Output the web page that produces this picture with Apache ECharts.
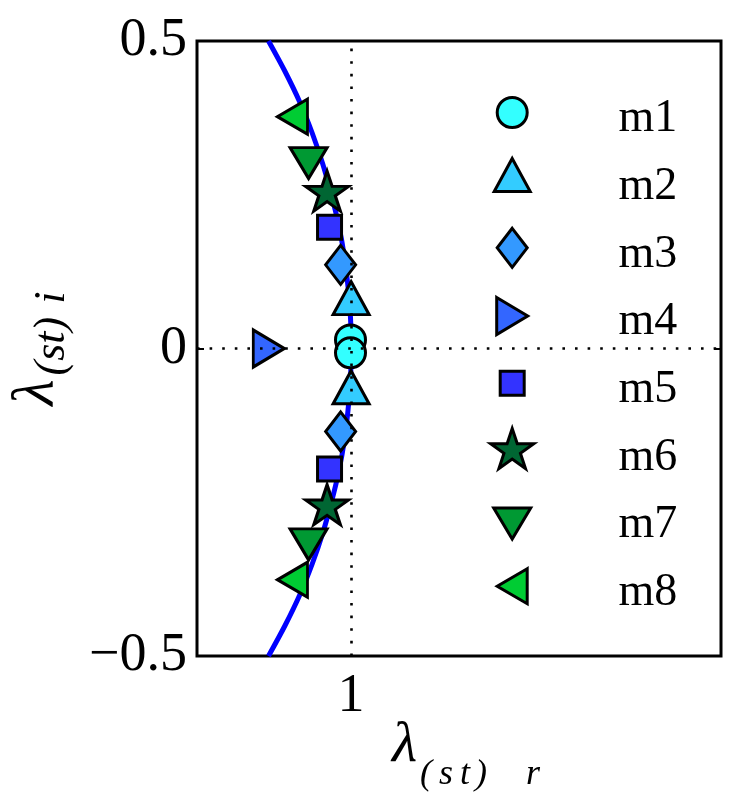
<!DOCTYPE html>
<html><head><meta charset="utf-8">
<script src="https://cdn.jsdelivr.net/npm/echarts@6/dist/echarts.min.js"></script>
<style>html,body{margin:0;padding:0;background:#fff}#c{width:739px;height:798px}</style>
</head><body><div id="c"></div>
<script>
// ---- data ----
const seriesNames = ['m1','m2','m3','m4','m5','m6','m7','m8'];
const m1 = [[0.999, 0.014],[0.999,-0.007]];
const m2 = [[1.000, 0.073],[1.000,-0.072]];
const m3 = [[0.983, 0.136],[0.983,-0.135]];
const m4 = [[0.858, 0.000]];
const m5 = [[0.965, 0.197],[0.965,-0.196]];
const m6 = [[0.961, 0.256],[0.961,-0.254]];
const m7 = [[0.931, 0.310],[0.931,-0.310]];
const m8 = [[0.913, 0.377],[0.913,-0.376]];
const curveX = [0.866,0.893,0.917,0.937,0.954,0.968,0.980,0.989,0.995,0.999,1.000,0.999,0.995,0.989,0.980,0.968,0.954,0.937,0.917,0.893,0.866];
const curveY = [-0.50,-0.45,-0.40,-0.35,-0.30,-0.25,-0.20,-0.15,-0.10,-0.05,0.00,0.05,0.10,0.15,0.20,0.25,0.30,0.35,0.40,0.45,0.50];
const yTicks = [-0.5, 0, 0.5];
const yTickLabels = ['\u22120.5', '0', '0.5'];
const xTicks = [1];
const xTickLabels = ['1'];

// ---- styles ----
const seriesData = [m1,m2,m3,m4,m5,m6,m7,m8];
const colors = ['#33FFFF','#33CCFF','#3399FF','#3366FF','#3333FF','#006633','#009933','#00CC33'];
const SERIF = '"Liberation Serif","Times New Roman",serif';
const sizes = [[30,30],[36,33],[30,39],[31,37],[24,24],[43,40],[37,31],[30,35]];
const offsets = [[0,0],[0,-5.5],[0,0],[5.2,0],[0,0],[0,0],[0,5.2],[-5,0]];
// legend geometry (pixels)
const legendIconCY = [115,176.5,248.3,315.5,381.7,446,520,581.7];
const legendBase0 = 135, legendStep = 66.7, legendCX = 510.7, legendTextX = 617;
const legendFont = 46, midToBase = 0.29*46;
const BOX_W = legendTextX - 5 - (legendCX - 25), BOX_H = 60;

function f(v){return Math.round(v*100)/100;}
function shapePath(k, cx, cy, w, h){
  const l=cx-w/2, r=cx+w/2, t=cy-h/2, b=cy+h/2;
  switch(k){
    case 0: { const rr=w/2; return `M${f(l)},${f(cy)}A${f(rr)},${f(rr)},0,1,0,${f(r)},${f(cy)}A${f(rr)},${f(rr)},0,1,0,${f(l)},${f(cy)}Z`; }
    case 1: return `M${f(cx)},${f(t)}L${f(r)},${f(b)}L${f(l)},${f(b)}Z`;
    case 2: return `M${f(cx)},${f(t)}L${f(r)},${f(cy)}L${f(cx)},${f(b)}L${f(l)},${f(cy)}Z`;
    case 3: return `M${f(l)},${f(t)}L${f(r)},${f(cy)}L${f(l)},${f(b)}Z`;
    case 4: return `M${f(l)},${f(t)}L${f(r)},${f(t)}L${f(r)},${f(b)}L${f(l)},${f(b)}Z`;
    case 5: {
      const pts=[[47.55,0],[58.78,34.55],[95.1,34.55],[65.72,55.9],[76.94,90.45],[47.55,69.1],[18.16,90.45],[29.38,55.9],[0,34.55],[36.32,34.55]];
      return pts.map((p,j)=>(j?'L':'M')+f(l+p[0]/95.1*w)+','+f(t+p[1]/90.45*h)).join('')+'Z';
    }
    case 6: return `M${f(l)},${f(t)}L${f(r)},${f(t)}L${f(cx)},${f(b)}Z`;
    case 7: return `M${f(r)},${f(t)}L${f(l)},${f(cy)}L${f(r)},${f(b)}Z`;
  }
}
const symbols = seriesNames.map((n,k)=>{
  if(k===0) return 'circle';
  if(k===1) return 'triangle';
  if(k===2) return 'diamond';
  if(k===4) return 'rect';
  return 'path://'+shapePath(k, sizes[k][0]/2, sizes[k][1]/2, sizes[k][0], sizes[k][1]);
});
const legendIcons = seriesNames.map((n,k)=>{
  const rowC = legendBase0 + legendStep*k - midToBase;
  const cy = BOX_H/2 + (legendIconCY[k] - rowC);
  return 'path://M0,0' + shapePath(k, 25, cy, sizes[k][0], sizes[k][1]) + `M${f(BOX_W)},${BOX_H}`;
});

const chart = echarts.init(document.getElementById('c'), null, {renderer:'canvas'});

const series = [{
  type:'line', name:'curve', data: curveX.map((x,i)=>[x, curveY[i]]),
  showSymbol:false, smooth:0.3, lineStyle:{color:'#0000FF', width:5}, z:2, silent:true,
  markLine:{silent:true, symbol:['none','none'], label:{show:false}, animation:false,
    lineStyle:{color:'#000', width:2.6, type:[2.6,10], cap:'butt'},
    data:[{xAxis:1},{yAxis:0}]}
}];
seriesNames.forEach((n,i)=>{
  series.push({type:'scatter', name:n, data:seriesData[i], symbol:symbols[i], symbolSize:sizes[i],
    symbolOffset:offsets[i], z:3,
    itemStyle:{color:colors[i], borderColor:'#000', borderWidth:3, opacity:1}});
});

const it = {fontFamily:SERIF, fontStyle:'italic', color:'#000'};
const XP = 40, YP = 23;
const xSub = (pl)=>Object.assign({}, it, {fontSize:36, lineHeight:36, padding:[XP,0,0,pl], verticalAlign:'top'});
const ySub = (pl)=>Object.assign({}, it, {fontSize:44, lineHeight:44, padding:[YP,0,0,pl], verticalAlign:'top'});

const option = {
  animation:false, backgroundColor:'#fff',
  grid:{left:197, top:41, right:18, bottom:142, outerBoundsMode:'none', containLabel:false,
    show:true, borderColor:'#000', borderWidth:3, backgroundColor:'transparent'},
  legend:{orient:'vertical', left: legendCX - 25, top: legendBase0 - midToBase - BOX_H/2 - 4,
    itemWidth:BOX_W, itemHeight:BOX_H, itemGap: legendStep - BOX_H - 2.0, padding:0, selectedMode:false,
    data: seriesNames.map((n,k)=>({name:n, icon:legendIcons[k]})),
    itemStyle:{borderColor:'#000', borderWidth:3},
    textStyle:{fontFamily:SERIF, fontSize:legendFont, color:'#000', lineHeight:legendFont}},
  xAxis:[{type:'value', min:0.75, max:1.6, position:'bottom',
    axisLine:{show:false}, splitLine:{show:false},
    axisTick:{show:true, inside:true, length:7, customValues:xTicks, lineStyle:{color:'#000', width:2}},
    axisLabel:{show:true, customValues:xTicks, margin:14, formatter:v=>xTickLabels[xTicks.indexOf(v)] ?? '',
      fontFamily:SERIF, fontSize:54, color:'#000'},
    name:'{L|\u03bb}{a|(}{b|s}{b|t}{c|)}{d|r}', nameLocation:'middle', nameGap:61, nameMoveOverlap:false,
    nameTextStyle:{fontFamily:SERIF, color:'#000', rich:{
      L:Object.assign({}, it, {fontSize:58, lineHeight:58, verticalAlign:'top', padding:[0,0,0,14]}),
      a:xSub(3), b:xSub(7), c:xSub(5), d:xSub(39)
    }}},
    {type:'value', min:0.75, max:1.6, position:'top', axisLine:{show:false}, splitLine:{show:false}, axisLabel:{show:false},
    axisTick:{show:true, inside:true, length:7, customValues:xTicks, lineStyle:{color:'#000', width:2}}}],
  yAxis:[{type:'value', min:-0.5, max:0.5, interval:0.5, position:'left',
    axisLine:{show:false}, splitLine:{show:false},
    axisTick:{show:true, inside:true, length:7, lineStyle:{color:'#000', width:2}},
    axisLabel:{margin:10, formatter:v=>yTickLabels[yTicks.indexOf(Math.round(v*10)/10)] ?? '',
      fontFamily:SERIF, fontSize:54, color:'#000'},
    name:'{L|\u03bb}{a|(st)}{d|i}', nameLocation:'middle', nameRotate:90, nameGap:130, nameMoveOverlap:false,
    nameTextStyle:{fontFamily:SERIF, color:'#000', rich:{
      L:Object.assign({}, it, {fontSize:60, lineHeight:60, verticalAlign:'top'}),
      a:ySub(4), d:ySub(13)
    }}},
    {type:'value', min:-0.5, max:0.5, interval:0.5, position:'right', axisLine:{show:false}, splitLine:{show:false}, axisLabel:{show:false},
    axisTick:{show:true, inside:true, length:7, lineStyle:{color:'#000', width:2}}}],
  series: series
};
chart.setOption(option);
</script></body></html>
